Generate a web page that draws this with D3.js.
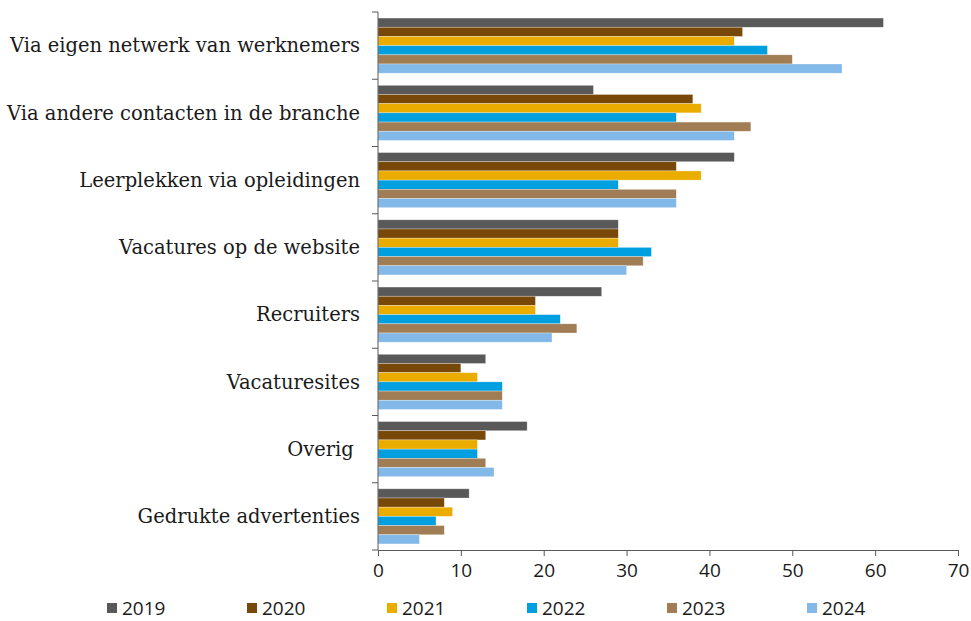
<!DOCTYPE html>
<html>
	<head>
		<meta charset="UTF-8" />
		<title>document</title>
		<script src="https://d3js.org/d3.v7.min.js"></script>
		<style>
			body { margin: 0; background: #fff; }
			.cat { font-family: "DejaVu Serif", serif; font-size: 19.5px; fill: #1a1a1a; }
			.tick text, .leg { font-family: "Open Sans", sans-serif; font-size: 19px; fill: #1a1a1a; }
			.domain, .tick line { stroke: #595959; }
		</style>
	</head>
	<body>
	<script type="text/javascript">
		var categories = ["Via eigen netwerk van werknemers", "Via andere contacten in de branche",
			"Leerplekken via opleidingen", "Vacatures op de website", "Recruiters",
			"Vacaturesites", "Overig ", "Gedrukte advertenties"];
		var years = ["2019", "2020", "2021", "2022", "2023", "2024"];
		var v2019 = [61, 26, 43, 29, 27, 13, 18, 11];
		var v2020 = [44, 38, 36, 29, 19, 10, 13, 8];
		var v2021 = [43, 39, 39, 29, 19, 12, 12, 9];
		var v2022 = [47, 36, 29, 33, 22, 15, 12, 7];
		var v2023 = [50, 45, 36, 32, 24, 15, 13, 8];
		var v2024 = [56, 43, 36, 30, 21, 15, 14, 5];
		var xTicks = [0, 10, 20, 30, 40, 50, 60, 70];
		var colors = ["#595959", "#774808", "#ebac00", "#009fe0", "#a07d55", "#83b9e8"];

		var series = [v2019, v2020, v2021, v2022, v2023, v2024];
		var width = 971, height = 621;
		var mLeft = 378, mRight = 958, mTop = 12, mBottom = 550;

		var svg = d3.select("body").append("svg").attr("width", width).attr("height", height);

		var x = d3.scaleLinear().domain([0, 70]).range([mLeft, mRight]);
		var y = d3.scaleBand().domain(categories).range([mTop, mBottom]).paddingInner(0.18).paddingOuter(0.09);
		var yOuter = d3.scaleBand().domain(categories).range([mTop, mBottom]);
		var yIn = d3.scaleBand().domain(years).range([0, y.bandwidth()]);

		var groups = svg.selectAll("g.grp").data(categories).enter().append("g")
			.attr("class", "grp")
			.attr("transform", function(d){ return "translate(0," + y(d) + ")"; });

		groups.selectAll("rect").data(function(d, i){
				return years.map(function(yr, j){ return {yr: yr, v: series[j][i], c: colors[j]}; });
			}).enter().append("rect")
			.attr("x", x(0))
			.attr("y", function(d){ return yIn(d.yr); })
			.attr("width", function(d){ return x(d.v) - x(0); })
			.attr("height", yIn.bandwidth())
			.attr("fill", function(d){ return d.c; })
			.attr("stroke", "#fff").attr("stroke-opacity", 0.5).attr("stroke-width", 0.6);

		// y axis with boundary ticks
		var yAxis = svg.append("g");
		yAxis.append("line").attr("class", "domain").attr("x1", mLeft).attr("x2", mLeft).attr("y1", mTop).attr("y2", mBottom);
		var bounds = categories.map(function(c){ return yOuter(c); }).concat([mBottom]);
		yAxis.selectAll("line.tk").data(bounds).enter().append("line")
			.attr("class", "domain")
			.attr("x1", mLeft - 6).attr("x2", mLeft)
			.attr("y1", function(d){ return d; }).attr("y2", function(d){ return d; });

		svg.selectAll("text.cat").data(categories).enter().append("text")
			.attr("class", "cat")
			.attr("x", 360)
			.attr("y", function(d){ return yOuter(d) + yOuter.bandwidth() / 2; })
			.attr("dy", "0.35em")
			.attr("text-anchor", "end")
			.style("white-space", "pre")
			.text(function(d){ return d; });

		var xAxis = svg.append("g").attr("transform", "translate(0," + mBottom + ")")
			.call(d3.axisBottom(x).tickValues(xTicks).tickSize(6).tickPadding(8).tickSizeOuter(0));
		xAxis.selectAll(".tick text").attr("font-size", null).attr("font-family", null);

		var leg = svg.selectAll("g.leg").data(years).enter().append("g")
			.attr("transform", function(d, i){ return "translate(" + (107 + i * 140) + ",603)"; });
		leg.append("rect").attr("width", 10).attr("height", 10)
			.attr("fill", function(d, i){ return colors[i]; });
		leg.append("text").attr("class", "leg").attr("x", 15).attr("y", 5).attr("dy", "0.35em")
			.text(function(d){ return d; });
	</script>
	</body>
</html>
